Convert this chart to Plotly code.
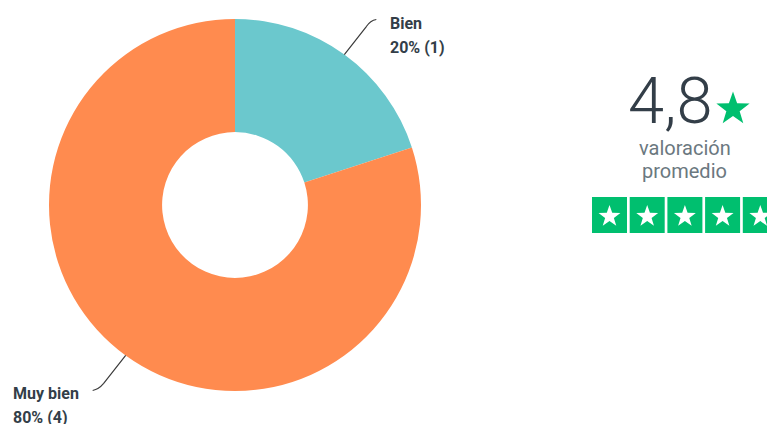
import math
import plotly.graph_objects as go

# ---- data ----
labels = ["Bien", "Muy bien"]
counts = [1, 4]
colors = ["#6BC8CD", "#FF8B4F"]
rating = 4.8
rating_text = "4,8"
rating_caption = ["valoración", "promedio"]
star_boxes = 5

W, H = 767, 424


def px(x):
    return x / W


def py(y):
    return 1 - y / H


# donut geometry (pixels)
CX, CY, R = 235, 205, 186
HOLE = 0.392

fig = go.Figure(go.Pie(
    labels=labels,
    values=counts,
    sort=False,
    direction="clockwise",
    rotation=0,
    hole=HOLE,
    marker=dict(colors=colors, line=dict(width=0)),
    textinfo="none",
    hoverinfo="label+percent+value",
    showlegend=False,
    domain=dict(x=[px(CX - R), px(CX + R)], y=[py(CY + R), py(CY - R)]),
))

shapes = []
annotations = []

TXT = "#333E48"
total = sum(counts)

# slice mid angles (clockwise from 12 o'clock)
cum = 0
mids = []
for c in counts:
    a0 = cum / total * 360
    cum += c
    a1 = cum / total * 360
    mids.append((a0 + a1) / 2)


def edge_point(angle):
    t = math.radians(angle)
    return CX + R * math.sin(t), CY - R * math.cos(t)


LBL_FONT = dict(family="Roboto", size=16, color=TXT, weight="bold")

# Bien label (top-right)
sx, sy = edge_point(mids[0])
pct0 = round(counts[0] / total * 100)
p = (f"M {px(sx)},{py(sy)} L {px(sx + 22)},{py(sy - 28)} "
     f"Q {px(sx + 26)},{py(sy - 34)} {px(sx + 32)},{py(sy - 35)}")
shapes.append(dict(type="path", xref="paper", yref="paper", path=p,
                   line=dict(color="#3b3b3b", width=1.2)))
annotations.append(dict(x=px(388), y=py(24), xref="paper", yref="paper",
                        text=labels[0], showarrow=False, xanchor="left", yanchor="middle",
                        font=LBL_FONT))
annotations.append(dict(x=px(388), y=py(48), xref="paper", yref="paper",
                        text=f"{pct0}% ({counts[0]})", showarrow=False, xanchor="left", yanchor="middle",
                        font=LBL_FONT))

# Muy bien label (bottom-left)
sx, sy = edge_point(mids[1])
pct1 = round(counts[1] / total * 100)
p = (f"M {px(sx)},{py(sy)} L {px(sx - 22)},{py(sy + 28)} "
     f"Q {px(sx - 27)},{py(sy + 34)} {px(sx - 33)},{py(sy + 35)}")
shapes.append(dict(type="path", xref="paper", yref="paper", path=p,
                   line=dict(color="#3b3b3b", width=1.2)))
annotations.append(dict(x=px(11), y=py(393), xref="paper", yref="paper",
                        text=labels[1], showarrow=False, xanchor="left", yanchor="middle",
                        font=LBL_FONT))
annotations.append(dict(x=px(11), y=py(417), xref="paper", yref="paper",
                        text=f"{pct1}% ({counts[1]})", showarrow=False, xanchor="left", yanchor="middle",
                        font=LBL_FONT))


def star_path(cx, cy, ro, ri=None):
    if ri is None:
        ri = ro * 0.4
    pts = []
    for k in range(10):
        ang = math.radians(-90 + k * 36)
        rr = ro if k % 2 == 0 else ri
        pts.append((cx + rr * math.cos(ang), cy + rr * math.sin(ang)))
    return "M " + " L ".join(f"{px(x)},{py(y)}" for x, y in pts) + " Z"


GREEN = "#00BF6F"

# big rating
annotations.append(dict(x=px(714), y=py(101), xref="paper", yref="paper",
                        text=rating_text, showarrow=False, xanchor="right", yanchor="middle",
                        font=dict(family="Roboto", size=65, color=TXT, weight=300),
                        borderpad=0, height=62, valign="middle"))
shapes.append(dict(type="path", xref="paper", yref="paper", path=star_path(733, 109, 17.5),
                   fillcolor=GREEN, line=dict(width=0)))

# caption
for i, t in enumerate(rating_caption):
    annotations.append(dict(x=px(684.5), y=py(148 + 23 * i), xref="paper", yref="paper",
                            text=t, showarrow=False, xanchor="center", yanchor="middle",
                            font=dict(family="Roboto", size=20, color="#6B787F"),
                            borderpad=0))

# star boxes
bx0, bstep, bw, by0, bh = 592, 37.7, 35, 197, 36
for i in range(star_boxes):
    x0 = bx0 + i * bstep
    shapes.append(dict(type="rect", xref="paper", yref="paper",
                       x0=px(x0), x1=px(x0 + bw), y0=py(by0 + bh), y1=py(by0),
                       fillcolor=GREEN, line=dict(width=0)))
    shapes.append(dict(type="path", xref="paper", yref="paper",
                       path=star_path(x0 + bw / 2, by0 + bh / 2 + 1.5, 11.5),
                       fillcolor="white", line=dict(width=0)))

fig.update_layout(
    width=W, height=H,
    margin=dict(l=0, r=0, t=0, b=0),
    paper_bgcolor="white",
    plot_bgcolor="white",
    shapes=shapes,
    annotations=annotations,
)

fig.write_html("out.html", config={"displayModeBar": False},
               post_script="document.body.style.margin='0';document.body.style.overflow='hidden';")
